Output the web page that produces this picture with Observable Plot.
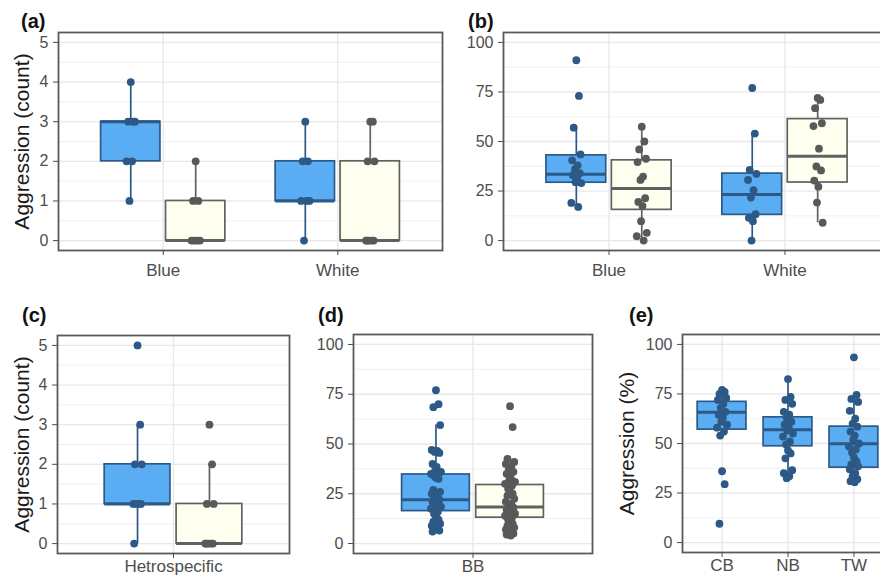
<!DOCTYPE html>
<html>
<head>
<meta charset="utf-8">
<script src="https://cdn.jsdelivr.net/npm/d3@7"></script>
<script src="https://cdn.jsdelivr.net/npm/@observablehq/plot@0.6"></script>
<style>
  body { margin: 0; background: #fff; }
  #root { position: relative; width: 880px; height: 579px; overflow: hidden; font-family: "Liberation Sans", Arial, sans-serif; background: #fff; }
  .panel { position: absolute; }
  .lab { position: absolute; font-weight: bold; font-size: 20px; line-height: 20px; color: #111; font-family: "Liberation Sans", Arial, sans-serif; }
</style>
</head>
<body>
<div id="root"></div>
<script>
// ---------------- DATA ----------------
// groups: 0 = blue boxes, 1 = cream boxes
const countTicks = [0, 1, 2, 3, 4, 5];
const countMinor = [0.5, 1.5, 2.5, 3.5, 4.5];
const pctTicks = [0, 25, 50, 75, 100];
const pctMinor = [12.5, 37.5, 62.5, 87.5];

// (a) Aggression counts by colour
const catsA = ["Blue", "White"];
const a_Blue_0 = [4, 3, 3, 3, 2, 2, 1];
const a_Blue_1 = [2, 1, 1, 0, 0, 0, 0];
const a_White_0 = [3, 2, 2, 1, 1, 1, 0];
const a_White_1 = [3, 3, 2, 2, 0, 0, 0, 0, 0];
// box stats: [category, group, lower whisker, q1, median, q3, upper whisker]
const boxA = [
  ["Blue", 0, 1, 2, 3, 3, 4],
  ["Blue", 1, 0, 0, 0, 1, 2],
  ["White", 0, 0, 1, 1, 2, 3],
  ["White", 1, 0, 0, 0, 2, 3]
];

// (b) Aggression % by colour
const catsB = ["Blue", "White"];
const b_Blue_0 = [91, 73, 57, 43.5, 40.5, 38, 36, 34, 33, 31.5, 29.5, 29, 19, 17];
const b_Blue_1 = [57.5, 50, 46, 41.3, 39.6, 32.3, 30.6, 21.4, 19.5, 17.5, 9.8, 3.9, 2.2, 0];
const b_White_0 = [77, 54, 35.7, 33.7, 30.6, 25.5, 21.7, 13.3, 11.5, 9.8, 0];
const b_White_1 = [72, 71, 66.8, 59.2, 57.8, 46.4, 37.4, 35.4, 30.3, 27.2, 19.2, 9];
const boxB = [
  ["Blue", 0, 17, 29.2, 33.5, 43, 57],
  ["Blue", 1, 0, 15.5, 26.3, 40.5, 57.5],
  ["White", 0, 0, 13, 23.3, 33.8, 54],
  ["White", 1, 9, 29.3, 42.5, 61.3, 72]
];

// (c) Heterospecific counts
const catsC = ["Hetrospecific"];
const c_Het_0 = [5, 3, 2, 2, 1, 1, 1, 1, 0];
const c_Het_1 = [3, 2, 1, 1, 0, 0, 0, 0, 0];
const boxC = [
  ["Hetrospecific", 0, 0, 1, 1, 2, 3],
  ["Hetrospecific", 1, 0, 0, 0, 1, 2]
];

// (d) BB %
const catsD = ["BB"];
const d_BB_0 = [77, 70, 68.5, 59.5, 47, 46.5, 46, 45.5, 40, 38.5, 37, 36, 35, 34.5, 34, 33, 32.5, 27, 26, 25, 24.5, 23, 22, 21, 20, 19, 18.5, 17.5, 16, 15, 13.5, 12, 11, 10, 9, 8, 7, 6.5, 6];
const d_BB_1 = [69, 58.5, 42.5, 41, 40, 38.5, 37, 36, 35, 33, 32, 31, 30, 29, 27.5, 26, 25, 24, 22.5, 21, 20, 19, 18, 17, 16.5, 16, 15, 14, 13, 12, 11, 10, 9, 8, 7, 6, 5.5, 5, 4.5, 4];
const boxD = [
  ["BB", 0, 6, 16.3, 22, 34.7, 59.5],
  ["BB", 1, 4, 13, 18.3, 29.4, 42.5]
];

// (e) Aggression % by site
const catsE = ["CB", "NB", "TW"];
const e_CB = [77, 76, 75, 73, 72, 70, 68, 66, 64.5, 63, 61, 59.5, 58, 56, 54, 36, 29.5, 9.5];
const e_NB = [82.5, 73.5, 72, 70, 66, 64.5, 63, 61, 59.5, 58, 56.5, 55, 53.5, 51, 49.5, 46.5, 45, 42.5, 36.5, 35, 33.5, 32.5];
const e_TW = [93.5, 74.5, 72.5, 71, 66.5, 62.5, 60, 58.5, 56, 54, 52, 50, 48.5, 47, 45.5, 43, 41, 39.5, 38.5, 37, 35, 33.5, 32, 31, 30.5];
const boxE = [
  ["CB", 0, 54, 57, 65.8, 71, 77],
  ["NB", 0, 32.5, 48.6, 56.9, 63.2, 82.5],
  ["TW", 0, 30.5, 37.8, 49.9, 58.5, 74.5]
];

// ---------------- STYLE ----------------
const BOX_FILL = ["#5aadf3", "#fffff0"];
const BOX_STROKE = ["#2b5a88", "#616161"];
const DOT_FILL = ["#2c5985", "#595959"];
const JIT = [0, 2.6, -2.6, 4.2, -4.2, 1.3, -1.3, 3.4, -3.4, 0.7, -0.7, 5, -5, 1.9, -1.9];
const FONT = "'Liberation Sans', Arial, sans-serif";

function makePanel(cfg) {
  const n = cfg.cats.length;
  const pxPerUnit = (cfg.width - cfg.ml - cfg.mr) / (n + 0.2);
  const idx = c => cfg.cats.indexOf(c) + 1;
  const boxes = cfg.boxes.map(([cat, g, lo, q1, med, q3, hi]) => ({cat, g, lo, q1, med, q3, hi, xc: idx(cat) + cfg.off[g]}));
  const pts = [];
  for (const [cat, g, vals] of cfg.points) {
    vals.forEach((v, i) => pts.push({cat, g, v, x: idx(cat) + cfg.off[g] + JIT[i % JIT.length] / pxPerUnit}));
  }
  const hw = cfg.hw;
  const plot = Plot.plot({
    width: cfg.width,
    height: cfg.height,
    marginTop: cfg.mt, marginRight: cfg.mr, marginBottom: cfg.mb, marginLeft: cfg.ml,
    style: {background: "transparent", maxWidth: "none", overflow: "visible", fontFamily: FONT, color: "#4d4d4d"},
    x: {type: "linear", domain: [0.4, n + 0.6]},
    y: {domain: cfg.yDomain},
    marks: [
      Plot.ruleY(cfg.yMinor, {stroke: "#eeeeee", strokeWidth: 0.9}),
      Plot.ruleY(cfg.yTicks, {stroke: "#e8e8e8", strokeWidth: 1.3}),
      Plot.ruleX(d3.range(1, n + 1), {stroke: "#e8e8e8", strokeWidth: 1.3}),
      Plot.ruleX(boxes, {x: "xc", y1: "lo", y2: "hi", stroke: d => BOX_STROKE[d.g], strokeWidth: 1.7}),
      Plot.rect(boxes, {x1: d => d.xc - hw, x2: d => d.xc + hw, y1: "q1", y2: "q3", fill: d => BOX_FILL[d.g], stroke: d => BOX_STROKE[d.g], strokeWidth: 1.7}),
      Plot.ruleY(boxes, {x1: d => d.xc - hw, x2: d => d.xc + hw, y: "med", stroke: d => BOX_STROKE[d.g], strokeWidth: 3}),
      Plot.dot(pts, {x: "x", y: "v", r: 3.9, fill: d => DOT_FILL[d.g], stroke: "none"}),
      Plot.frame({stroke: "#5a5a5a", strokeWidth: 1.8}),
      Plot.axisY({ticks: cfg.yTicks, tickFormat: d => String(d), tickSize: 5, tickPadding: 5, fontSize: 16, label: null}),
      Plot.axisX({ticks: d3.range(1, n + 1), tickFormat: i => cfg.cats[i - 1], tickSize: 5, tickPadding: cfg.xpad, fontSize: 17, label: null}),
      cfg.ylabel ? Plot.text([cfg.ylabel], {text: d => d, frameAnchor: "left", textAnchor: "middle", lineAnchor: "middle", rotate: -90, dx: cfg.ydx, fontSize: 21, fill: "#1a1a1a"}) : null
    ]
  });
  const div = document.createElement("div");
  div.className = "panel";
  div.style.left = cfg.left + "px";
  div.style.top = cfg.top + "px";
  div.style.width = cfg.width + "px";
  div.style.height = cfg.height + "px";
  div.appendChild(plot);
  document.getElementById("root").appendChild(div);
}

function label(text, left, top) {
  const d = document.createElement("div");
  d.className = "lab";
  d.style.left = left + "px";
  d.style.top = top + "px";
  d.textContent = text;
  document.getElementById("root").appendChild(d);
}

const dodge = [-0.186, 0.186];

makePanel({
  left: 0, top: 0, width: 450, height: 290, mt: 32, mr: 8, mb: 40, ml: 58,
  cats: catsA, boxes: boxA, off: dodge, hw: 0.17,
  points: [["Blue", 0, a_Blue_0], ["Blue", 1, a_Blue_1], ["White", 0, a_White_0], ["White", 1, a_White_1]],
  yDomain: [-0.25, 5.25], yTicks: countTicks, yMinor: countMinor,
  xpad: 8, ylabel: "Aggression (count)", ydx: -36
});
makePanel({
  left: 440, top: 0, width: 460, height: 290, mt: 32, mr: 10, mb: 40, ml: 63,
  cats: catsB, boxes: boxB, off: dodge, hw: 0.17,
  points: [["Blue", 0, b_Blue_0], ["Blue", 1, b_Blue_1], ["White", 0, b_White_0], ["White", 1, b_White_1]],
  yDomain: [-5, 105], yTicks: pctTicks, yMinor: pctMinor,
  xpad: 8, ylabel: null
});
makePanel({
  left: 0, top: 290, width: 300, height: 289, mt: 45, mr: 11, mb: 26, ml: 57,
  cats: catsC, boxes: boxC, off: dodge, hw: 0.17,
  points: [["Hetrospecific", 0, c_Het_0], ["Hetrospecific", 1, c_Het_1]],
  yDomain: [-0.25, 5.25], yTicks: countTicks, yMinor: countMinor,
  xpad: 1, ylabel: "Aggression (count)", ydx: -35
});
makePanel({
  left: 290, top: 290, width: 310, height: 289, mt: 44, mr: 8, mb: 26, ml: 63,
  cats: catsD, boxes: boxD, off: dodge, hw: 0.17,
  points: [["BB", 0, d_BB_0], ["BB", 1, d_BB_1]],
  yDomain: [-5, 105], yTicks: pctTicks, yMinor: pctMinor,
  xpad: 1, ylabel: null
});
makePanel({
  left: 590, top: 290, width: 310, height: 289, mt: 44, mr: 7, mb: 27, ml: 92,
  cats: catsE, boxes: boxE, off: [0, 0], hw: 0.37,
  points: [["CB", 0, e_CB], ["NB", 0, e_NB], ["TW", 0, e_TW]],
  yDomain: [-5, 105], yTicks: pctTicks, yMinor: pctMinor,
  xpad: 1, ylabel: "Aggression (%)", ydx: -55
});

label("(a)", 21, 11);
label("(b)", 468, 11);
label("(c)", 22, 305);
label("(d)", 318, 305);
label("(e)", 629, 305);
</script>
</body>
</html>
